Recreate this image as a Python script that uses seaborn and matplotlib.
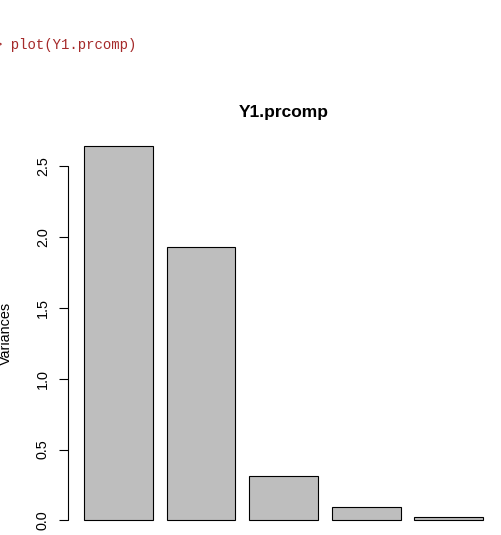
import matplotlib
matplotlib.use("Agg")
import matplotlib.pyplot as plt
import seaborn as sns

components = ["PC1", "PC2", "PC3", "PC4", "PC5"]
variances = [2.641, 1.931, 0.316, 0.093, 0.025]
y_ticks = [0.0, 0.5, 1.0, 1.5, 2.0, 2.5]
y_tick_labels = ["0.0", "0.5", "1.0", "1.5", "2.0", "2.5"]

sns.set_style("white")
plt.rcParams['font.family'] = ['Liberation Sans', 'DejaVu Sans']
plt.rcParams['text.color'] = 'black'

W, H = 501, 535
fig = plt.figure(figsize=(W / 100, H / 100), dpi=100)

# axes region like R's plot region
left_px, right_px, top_px = 68, 499.3, 131.1
ax = fig.add_axes([left_px / W, 0, (right_px - left_px) / W, (H - top_px) / H])

sns.barplot(x=components, y=variances, color="#bebebe", edgecolor="black",
            linewidth=0.8, width=1 / 1.2, saturation=1, ax=ax)

ax.set_xlim(-0.61, 4.61)
ax.set_ylim(-0.1023, 2.746)

for side in ["top", "right", "bottom", "left"]:
    ax.spines[side].set_visible(False)
ax.set_xticks([])
ax.set_xlabel("")
ax.set_ylabel("")

# R style y axis: line only over tick range
ax.plot([-0.61, -0.61], [0, 2.5], color="black", lw=0.8, clip_on=False)
ax.set_yticks(y_ticks)
ax.set_yticklabels(y_tick_labels, rotation=90, va="center", fontsize=10.4)
ax.tick_params(axis="y", direction="out", length=6.5, width=0.8, pad=6.5,
               left=True, colors="black", labelcolor="black")

# axis title and main title
fig.text(5.5 / W, (H - 333) / H, "Variances", rotation=90, ha="center",
         va="center", fontsize=10.4, color="black")
fig.text(283.6 / W, (H - 116.7) / H, "Y1.prcomp", ha="center", va="baseline",
         fontsize=12.5, fontweight="bold", color="black")

# console command line, cut at the left edge
fig.text(-5.8 / W, (H - 49) / H, "> plot(Y1.prcomp)", ha="left", va="baseline",
         fontsize=10.1, family=["Liberation Mono", "DejaVu Sans Mono"],
         color="#a52a2a")

fig.savefig("out.png", dpi=100)
